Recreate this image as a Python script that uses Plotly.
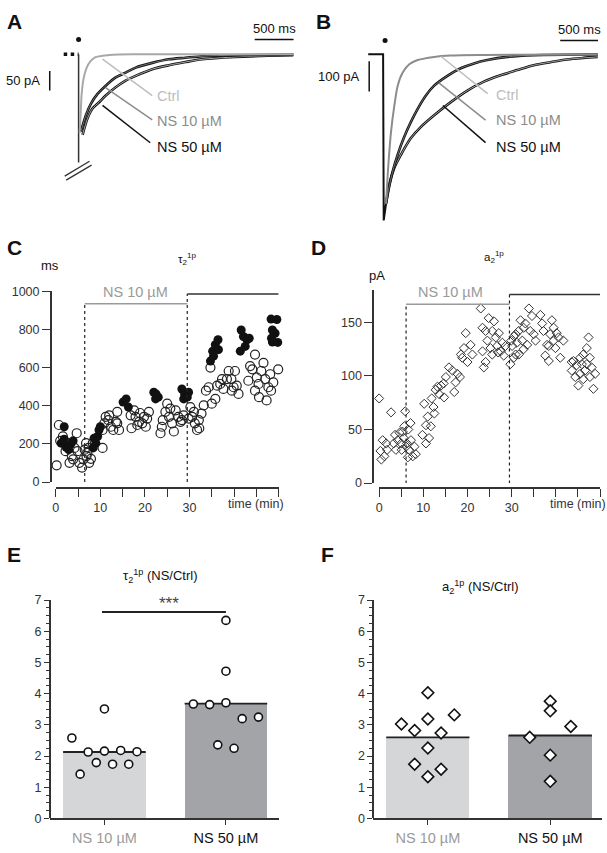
import plotly.graph_objects as go

W, H = 607, 853
FONT = "Arial, Liberation Sans, Helvetica, sans-serif"
GRAY_TXT = "#9a9a9a"
LIGHT = "#bdbdbd"
AX = "#333333"

# ---------------- DATA ----------------
# Panel A: example traces (time in ms, current in pA)
a_base_t = [-192, 0, 0]
a_base_i = [0, 0, -275]
a_ctrl_t = [13, 26, 38, 64, 103, 154, 218, 308, 436, 692, 2769]
a_ctrl_i = [-200, -155, -105, -62, -35, -17.5, -7.5, -3.8, -1.2, 0, 0]
a_ns10_t = [29, 94, 158, 244, 350, 478, 606, 735, 949, 1163, 1376, 1590, 2013, 2769]
a_ns10_i = [-197, -155, -126, -101, -80, -59, -47, -34, -22, -13, -9, -5, -2.5, -0.8]
a_ns50_t = [51, 115, 179, 265, 350, 478, 606, 735, 949, 1163, 1376, 1590, 2017, 2445, 2765]
a_ns50_i = [-205, -163, -138, -122, -105, -84, -67, -55, -38, -28, -20, -13, -7, -4, -2.5]

# Panel B: example traces
b_base_t = [-197, 0, 8, 39]
b_base_i = [0, 0, -545, -490]
b_ctrl_t = [39, 70, 105, 149, 193, 259, 346, 457, 675, 895, 1333, 2835]
b_ctrl_i = [-490, -361, -254, -168, -103, -60, -33, -19, -8.7, -4.2, -2.3, -1]
b_ns10_t = [39, 70, 128, 193, 281, 368, 457, 566, 675, 851, 1026, 1202, 1378, 1641, 1991, 2839]
b_ns10_i = [-490, -447, -383, -329, -270, -222, -179, -135, -103, -71, -46, -30, -19, -8.7, -3.2, -1]
b_ns50_t = [39, 83, 149, 237, 368, 500, 675, 895, 1115, 1333, 1553, 1773, 1991, 2211, 2431, 2649, 2839]
b_ns50_i = [-490, -426, -372, -329, -275, -238, -200, -157, -119, -90, -69, -52, -36, -26, -17, -12, -8.7]

# Panel C: tau2 over time (min, ms)
c_open_t = [0.2, 0.7, 1.0, 1.6, 2.2, 3.1, 3.6, 4.2, 4.7, 3.9, 5.3, 5.9, 6.2, 4.9, 2.8,
            6.8, 7.1, 7.5, 7.9, 7.4, 8.3, 6.5, 6.9,
            10.5, 10.9, 11.2, 11.8, 12.4, 12.9, 13.5, 10.5, 13.8, 14.2, 13.8, 12.0,
            16.8, 17.6, 17.9, 18.7, 19.4, 20.2, 18.9, 17.0, 19.8, 20.5, 20.9, 18.3,
            23.5, 24.0, 24.6, 25.4, 26.1, 26.5, 26.9, 27.5, 28.0, 28.3, 28.7, 25.0, 25.7, 23.8,
            30.2, 30.6, 31.2, 31.7, 32.1, 32.7, 33.2, 33.7, 34.3, 31.0, 32.2, 29.8,
            35.0, 35.8, 36.2, 36.9, 37.6, 38.4, 38.8, 39.4, 39.9, 40.6, 41.0, 40.2, 39.5, 37.3, 34.7,
            43.2, 43.6, 44.1, 44.7, 45.1, 45.5, 46.1, 46.6, 47.0, 47.3, 47.7, 48.1, 44.7, 45.6,
            49.9, 48.8, 48.3]
c_open_v = [88, 299, 216, 239, 162, 101, 136, 179, 256, 119, 101, 76, 119, 162, 204,
            204, 153, 101, 122, 179, 204, 170, 136,
            273, 308, 342, 325, 290, 273, 316, 179, 308, 273, 368, 350,
            350, 376, 342, 316, 308, 290, 362, 282, 342, 333, 368, 299,
            256, 325, 368, 342, 308, 265, 376, 342, 316, 325, 350, 411, 385, 290,
            393, 342, 308, 273, 325, 359, 402, 479, 497, 368, 282, 333,
            411, 436, 505, 514, 488, 540, 582, 540, 497, 505, 462, 582, 479, 540, 600,
            531, 608, 591, 479, 548, 514, 582, 625, 540, 428, 497, 565, 668, 445,
            591, 522, 479]
c_fill_t = [1.9, 1.2, 2.3, 3.4, 3.9, 1.9, 2.9,
            8.4, 9.0, 9.4, 9.7, 10.0, 8.6,
            15.1, 15.8, 16.3,
            22.0, 22.5, 23.0, 22.4,
            28.3, 28.9, 29.5, 28.7, 29.8,
            34.7, 35.2, 35.8, 36.4, 35.4, 36.5,
            41.6, 42.1, 42.9, 43.4, 42.5, 41.4,
            48.3, 49.6, 48.6, 49.2, 48.4, 49.8, 48.6]
c_fill_v = [290, 204, 184, 199, 216, 225, 170,
            179, 204, 239, 273, 290, 230,
            419, 436, 393,
            471, 462, 445, 436,
            488, 462, 445, 436, 471,
            634, 686, 720, 746, 660, 694,
            797, 763, 746, 754, 711, 686,
            854, 852, 797, 780, 754, 732, 734]

# Panel D: a2 over time (min, pA)
d_t = [0.0, 0.3, 0.5, 0.8, 1.2, 1.6, 1.8, 2.7, 3.3, 3.6, 3.8, 4.2, 4.6, 5.0, 5.3, 5.1, 5.6, 5.9, 6.1, 5.7,
       6.5, 6.8, 7.2, 7.6, 8.0, 8.3, 6.3, 7.1, 6.6,
       9.8, 10.2, 10.6, 11.0, 11.3, 11.9, 12.3, 12.5, 12.8, 13.2, 13.6, 14.0, 14.6, 15.1, 15.8, 16.6,
       17.0, 17.7, 18.3, 18.8, 19.2, 19.6, 20.0, 20.7, 21.1, 18.5, 17.3, 14.7, 11.7, 10.6,
       23.0, 23.4, 23.7, 24.1, 24.5, 24.8, 25.2, 25.6, 26.0, 26.4, 26.7, 27.1, 27.5, 27.9, 28.2, 28.6,
       24.1, 23.4, 25.6, 26.9,
       29.7, 30.1, 30.5, 30.9, 31.2, 31.6, 32.0, 32.4, 32.7, 33.1, 33.5, 33.9, 34.2, 34.6, 35.0, 35.4,
       31.6, 30.5, 29.9, 30.9, 32.7,
       36.5, 36.9, 37.2, 37.6, 38.0, 38.4, 38.7, 39.1, 39.5, 39.9, 40.2, 40.6, 41.0, 41.7, 39.5, 38.4,
       43.6, 44.0, 44.4, 44.7, 45.1, 45.5, 45.9, 46.2, 46.6, 47.0, 47.4, 47.7, 48.1, 48.5, 48.9, 50.4,
       43.6, 45.5, 47.0, 46.2, 47.7]
d_v = [79, 30, 22, 40, 25, 37, 31, 66, 37, 45, 31, 40, 47, 37, 48, 31, 42, 67, 34, 53,
       24, 31, 40, 25, 34, 27, 37, 56, 50,
       45, 74, 54, 62, 42, 79, 71, 65, 87, 90, 83, 91, 93, 99, 108, 105,
       85, 102, 99, 117, 126, 140, 113, 129, 120, 120, 94, 80, 53, 37,
       163, 145, 108, 142, 133, 154, 126, 142, 151, 136, 128, 140, 123, 131, 119, 128,
       113, 123, 120, 122,
       111, 128, 137, 120, 131, 142, 152, 133, 145, 149, 129, 163, 142, 156, 139, 133,
       120, 117, 133, 139, 125,
       157, 149, 142, 119, 129, 114, 139, 152, 133, 126, 140, 136, 117, 133, 145, 128,
       105, 114, 99, 110, 91, 102, 111, 120, 105, 126, 136, 99, 108, 88, 102, 97,
       113, 117, 111, 97, 117]

# Panels E / F: normalized values
groups = ["NS 10 µM", "NS 50 µM"]
e_means = [2.13, 3.68]
e10_off = [-0.268, -0.2, -0.134, -0.067, 0, 0, 0.067, 0.134, 0.2, 0.268]
e10_val = [2.58, 1.42, 2.13, 1.79, 2.16, 3.51, 1.74, 2.18, 1.74, 2.14]
e50_off = [-0.268, -0.134, -0.067, 0, 0, 0, 0.067, 0.134, 0.268]
e50_val = [3.67, 3.65, 2.36, 6.35, 4.72, 3.71, 2.25, 3.20, 3.25]
f_means = [2.60, 2.66]
f10_off = [-0.216, -0.108, 0, 0, 0, 0, -0.108, 0.108, 0.108, 0.216]
f10_val = [3.03, 2.82, 4.03, 3.19, 2.26, 1.34, 1.74, 2.74, 1.58, 3.32]
f50_off = [-0.168, 0, 0, 0, 0, 0.168]
f50_val = [2.60, 3.76, 3.45, 2.03, 1.19, 2.95]

# ---------------- helpers ----------------
def fx(px):
    return px / W

def fy(py):
    return 1 - py / H

fig = go.Figure()

def line(xs, ys, ax, color, width, dash=None, shape="spline"):
    fig.add_trace(go.Scatter(x=xs, y=ys, xaxis="x" + ax, yaxis="y" + ax, mode="lines",
                             line=dict(color=color, width=width, dash=dash, shape=shape,
                                       smoothing=0.8),
                             hoverinfo="skip", showlegend=False, cliponaxis=False))

# ----- Panel A -----
line(a_base_t[:2], a_base_i[:2], "", "#111", 3.5, "dot", "linear")
line(a_base_t[1:], a_base_i[1:], "", "#333", 1.5, None, "linear")
line(a_ns50_t, a_ns50_i, "", "#111", 2.6)
line(a_ns50_t, a_ns50_i, "", "#d0d0d0", 0.8)
line(a_ns10_t, a_ns10_i, "", "#111", 2.6)
line(a_ns10_t, a_ns10_i, "", "#8a8a8a", 0.8)
line(a_ctrl_t, a_ctrl_i, "", "#a8a8a8", 2)
fig.add_trace(go.Scatter(x=[0], y=[37.5], xaxis="x", yaxis="y", mode="markers",
                         marker=dict(color="#111", size=5), showlegend=False, hoverinfo="skip"))

# ----- Panel B -----
line(b_base_t, b_base_i, "2", "#111", 2, None, "linear")
line(b_ns50_t, b_ns50_i, "2", "#111", 2.6)
line(b_ns50_t, b_ns50_i, "2", "#c8c8c8", 0.8)
line(b_ns10_t, b_ns10_i, "2", "#111", 2.6)
line(b_ns10_t, b_ns10_i, "2", "#888", 0.8)
line(b_ctrl_t, b_ctrl_i, "2", "#8c8c8c", 2)
fig.add_trace(go.Scatter(x=[26], y=[45], xaxis="x2", yaxis="y2", mode="markers",
                         marker=dict(color="#111", size=5, symbol="circle"),
                         showlegend=False, hoverinfo="skip"))

# ----- Panel C -----
fig.add_trace(go.Scatter(x=c_open_t, y=c_open_v, xaxis="x3", yaxis="y3", mode="markers",
                         marker=dict(symbol="circle-open", size=9, color="#222",
                                     line=dict(width=1.2)),
                         showlegend=False, cliponaxis=False))
fig.add_trace(go.Scatter(x=c_fill_t, y=c_fill_v, xaxis="x3", yaxis="y3", mode="markers",
                         marker=dict(symbol="circle", size=9, color="#111"),
                         showlegend=False, cliponaxis=False))

# ----- Panel D -----
fig.add_trace(go.Scatter(x=d_t, y=d_v, xaxis="x4", yaxis="y4", mode="markers",
                         marker=dict(symbol="diamond-open", size=7, color="#333",
                                     line=dict(width=1)),
                         showlegend=False, cliponaxis=False))

# ----- Panels E / F -----
BAR_COLORS = ["#d5d6d8", "#a3a4a7"]
BW = 0.68
for ax, means, pts, sym, msize in [("5", e_means, [(e10_off, e10_val), (e50_off, e50_val)], "circle", 8),
                                   ("6", f_means, [(f10_off, f10_val), (f50_off, f50_val)], "diamond", 9)]:
    fig.add_trace(go.Bar(x=[0, 1], y=means, width=BW, xaxis="x" + ax, yaxis="y" + ax,
                         marker=dict(color=BAR_COLORS, line=dict(width=0)),
                         showlegend=False, hoverinfo="skip"))
    for i, m in enumerate(means):
        fig.add_trace(go.Scatter(x=[i - BW / 2, i + BW / 2], y=[m, m], xaxis="x" + ax,
                                 yaxis="y" + ax, mode="lines",
                                 line=dict(color="#222", width=1.8),
                                 showlegend=False, hoverinfo="skip"))
    for i, (off, val) in enumerate(pts):
        fig.add_trace(go.Scatter(x=[i + o for o in off], y=val, xaxis="x" + ax,
                                 yaxis="y" + ax, mode="markers",
                                 marker=dict(symbol=sym, size=msize, color="white",
                                             line=dict(color="#111", width=1.6)),
                                 showlegend=False, cliponaxis=False))

# ---------------- layout ----------------
hidden = dict(visible=False, showgrid=False, zeroline=False)
tickfont = dict(family=FONT, size=12.5, color=AX)

def time_axis(x0, x1, ypos):
    return dict(domain=[fx(x0), fx(x1)], range=[0, 50], anchor="free", position=fy(ypos),
                tickvals=[0, 10, 20, 30],
                ticks="outside", ticklen=8, tickwidth=1.3, tickcolor=AX,
                minor=dict(dtick=5, tick0=0, ticks="outside", ticklen=8, tickwidth=1.3,
                           tickcolor=AX),
                showline=True, linecolor=AX, linewidth=1.5, showgrid=False,
                zeroline=False, tickfont=tickfont)

def val_axis(y0px, y1px, rng, xpos, vals, ticklen):
    return dict(domain=[fy(y0px), fy(y1px)], range=rng, anchor="free", position=fx(xpos),
                tickvals=vals, ticks="outside", ticklen=ticklen, tickwidth=1.3,
                tickcolor=AX, showline=True, linecolor=AX, linewidth=1.5,
                showgrid=False, zeroline=False, tickfont=tickfont)

def bar_y(xpos):
    return dict(domain=[fy(825), fy(603)], range=[0, 7], anchor="free", position=fx(xpos),
                dtick=1, tick0=0, ticks="outside", ticklen=5, tickwidth=1.2, tickcolor=AX,
                minor=dict(dtick=0.25, ticks="outside", ticklen=3, tickcolor=AX, tickwidth=1),
                showline=True, linecolor=AX, linewidth=1.5, showgrid=False,
                zeroline=False, tickfont=tickfont)

def bar_x(x0, x1, rng, yname):
    return dict(domain=[fx(x0), fx(x1)], range=rng, anchor=yname,
                tickvals=[0, 1],
                ticktext=["<span style='color:%s'>%s</span>" % (GRAY_TXT, groups[0]), groups[1]],
                ticks="outside", ticklen=5, tickwidth=1.3, tickcolor=AX,
                showline=True, linecolor=AX, linewidth=1.5, showgrid=False, zeroline=False,
                tickfont=dict(family=FONT, size=14.5, color="#111"))

layout = dict(
    width=W, height=H, margin=dict(l=0, r=0, t=0, b=0),
    paper_bgcolor="white", plot_bgcolor="rgba(0,0,0,0)",
    font=dict(family=FONT, color="#111"),
    bargap=0,
    xaxis=dict(domain=[0, fx(300)], range=[-974, 2872], anchor="y", **hidden),
    yaxis=dict(domain=[fy(220), 1], range=[-430, 120], anchor="x", **hidden),
    xaxis2=dict(domain=[fx(300), 1], range=[-1079, 2961], anchor="y2", **hidden),
    yaxis2=dict(domain=[fy(225), 1], range=[-571, 155], anchor="x2", **hidden),
    xaxis3=time_axis(53, 277, 489),
    yaxis3=val_axis(483, 289, [0, 1000], 48, [0, 200, 400, 600, 800, 1000], 8),
    xaxis4=time_axis(378, 600, 489),
    yaxis4=val_axis(484, 288, [0, 180], 372, [0, 50, 100, 150], 8),
    xaxis5=bar_x(47, 277, [-0.45, 1.434], "y5"),
    yaxis5=bar_y(47),
    xaxis6=bar_x(372, 602, [-0.447, 1.423], "y6"),
    yaxis6=bar_y(372),
)
fig.update_layout(**layout)

shapes = []
def seg(x0, y0, x1, y1, xref, yref, color, width, dash=None):
    shapes.append(dict(type="line", x0=x0, y0=y0, x1=x1, y1=y1, xref=xref, yref=yref,
                       line=dict(color=color, width=width, dash=dash)))

# A: break marks, scale bars, label pointers
seg(-179, -310, 141, -272, "x", "y", "#333", 1.3)
seg(-160, -320, 167, -282, "x", "y", "#333", 1.3)
seg(2269, 37.5, 2769, 37.5, "x", "y", "#111", 1.5)
seg(-372, -42.5, -372, -92.5, "x", "y", "#111", 1.5)
seg(308, -12.5, 949, -105, "x", "y", LIGHT, 1.5)
seg(346, -85, 949, -167, "x", "y", "#8c8c8c", 1.5)
seg(308, -130, 923, -225, "x", "y", "#111", 1.5)
# B
seg(2342, 45, 2842, 45, "x2", "y2", "#111", 1.5)
seg(-184, -22.6, -184, -122.6, "x2", "y2", "#111", 1.5)
seg(763, -6.5, 1382, -129, "x2", "y2", LIGHT, 1.5)
seg(737, -94, 1355, -216, "x2", "y2", "#8c8c8c", 1.5)
seg(790, -168, 1355, -290, "x2", "y2", "#111", 1.5)
# C
seg(6.5, -0.03, 6.5, 934, "x3", "y3", "#222", 1.2, "dot")
seg(29.5, -0.03, 29.5, 986, "x3", "y3", "#222", 1.2, "dot")
seg(6.5, 934, 29.5, 934, "x3", "y3", "#9a9a9a", 1.5)
seg(29.5, 986, 50, 986, "x3", "y3", "#333", 1.5)
# D
seg(6.1, -0.5, 6.1, 167, "x4", "y4", "#222", 1.2, "dot")
seg(29.5, -0.5, 29.5, 176, "x4", "y4", "#222", 1.2, "dot")
seg(6.1, 167, 29.5, 167, "x4", "y4", "#9a9a9a", 1.5)
seg(29.5, 176, 50.6, 176, "x4", "y4", "#333", 1.5)
# E significance
seg(-0.02, 6.62, 1.0, 6.62, "x5", "y5", "#222", 2)
fig.update_layout(shapes=shapes)

anns = []
def txt(text, x, y, xref, yref, size, color="#111", xanchor="center", yanchor="middle", bold=False):
    if bold:
        text = "<b>%s</b>" % text
    anns.append(dict(text=text, x=x, y=y, xref=xref, yref=yref, showarrow=False,
                     xanchor=xanchor, yanchor=yanchor,
                     font=dict(family=FONT, size=size, color=color)))

# panel letters
for letter, px, py in [("A", 2, 15), ("B", 313, 15), ("C", 2, 245), ("D", 308, 245),
                       ("E", 2, 557), ("F", 318, 557)]:
    txt(letter, fx(px), fy(py), "paper", "paper", 21, "#111", "left", bold=True)

# A texts
txt("500 ms", 2519, 65, "x", "y", 13)
txt("50 pA", -718, -67, "x", "y", 13)
txt("Ctrl", 987, -105, "x", "y", 14.5, LIGHT, "left")
txt("NS 10 µM", 987, -170, "x", "y", 14.5, "#8c8c8c", "left")
txt("NS 50 µM", 987, -235, "x", "y", 14.5, "#111", "left")
# B texts
txt("500 ms", 2592, 80, "x2", "y2", 13)
txt("100 pA", -585, -74, "x2", "y2", 13)
txt("Ctrl", 1461, -135, "x2", "y2", 14.5, LIGHT, "left")
txt("NS 10 µM", 1461, -216, "x2", "y2", 14.5, "#8c8c8c", "left")
txt("NS 50 µM", 1461, -303, "x2", "y2", 14.5, "#111", "left")

# C texts
txt("ms", fx(47), fy(263), "paper", "paper", 13)
txt("τ<sub>2</sub><sup>1p</sup>", fx(185), fy(256), "paper", "paper", 11.5)
txt("NS 10 µM", 17.9, 998, "x3", "y3", 14.5, GRAY_TXT)
txt("NS 50 µM", 39.5, 1058, "x3", "y3", 14.5, "#111")
txt("time (min)", 45, fy(505), "x3", "paper", 12.5, AX)
# D texts
txt("pA", fx(376), fy(273), "paper", "paper", 13)
txt("a<sub>2</sub><sup>1p</sup>", fx(493), fy(254), "paper", "paper", 11.5)
txt("NS 10 µM", 16.2, 178, "x4", "y4", 14.5, GRAY_TXT)
txt("NS 50 µM", 40.1, 190.7, "x4", "y4", 14.5, "#111")
txt("time (min)", 45, fy(505), "x4", "paper", 12.5, AX)
# E / F texts
txt("τ<sub>2</sub><sup>1p</sup> (NS/Ctrl)", fx(158), fy(578), "paper", "paper", 13)
txt("***", 0.53, 6.88, "x5", "y5", 17, "#444")
txt("a<sub>2</sub><sup>1p</sup> (NS/Ctrl)", fx(480), fy(590), "paper", "paper", 13)
fig.update_layout(annotations=anns)

fig.write_html("out.html", config={"displayModeBar": False},
               post_script="document.body.style.margin='0';document.body.style.overflow='hidden';")
